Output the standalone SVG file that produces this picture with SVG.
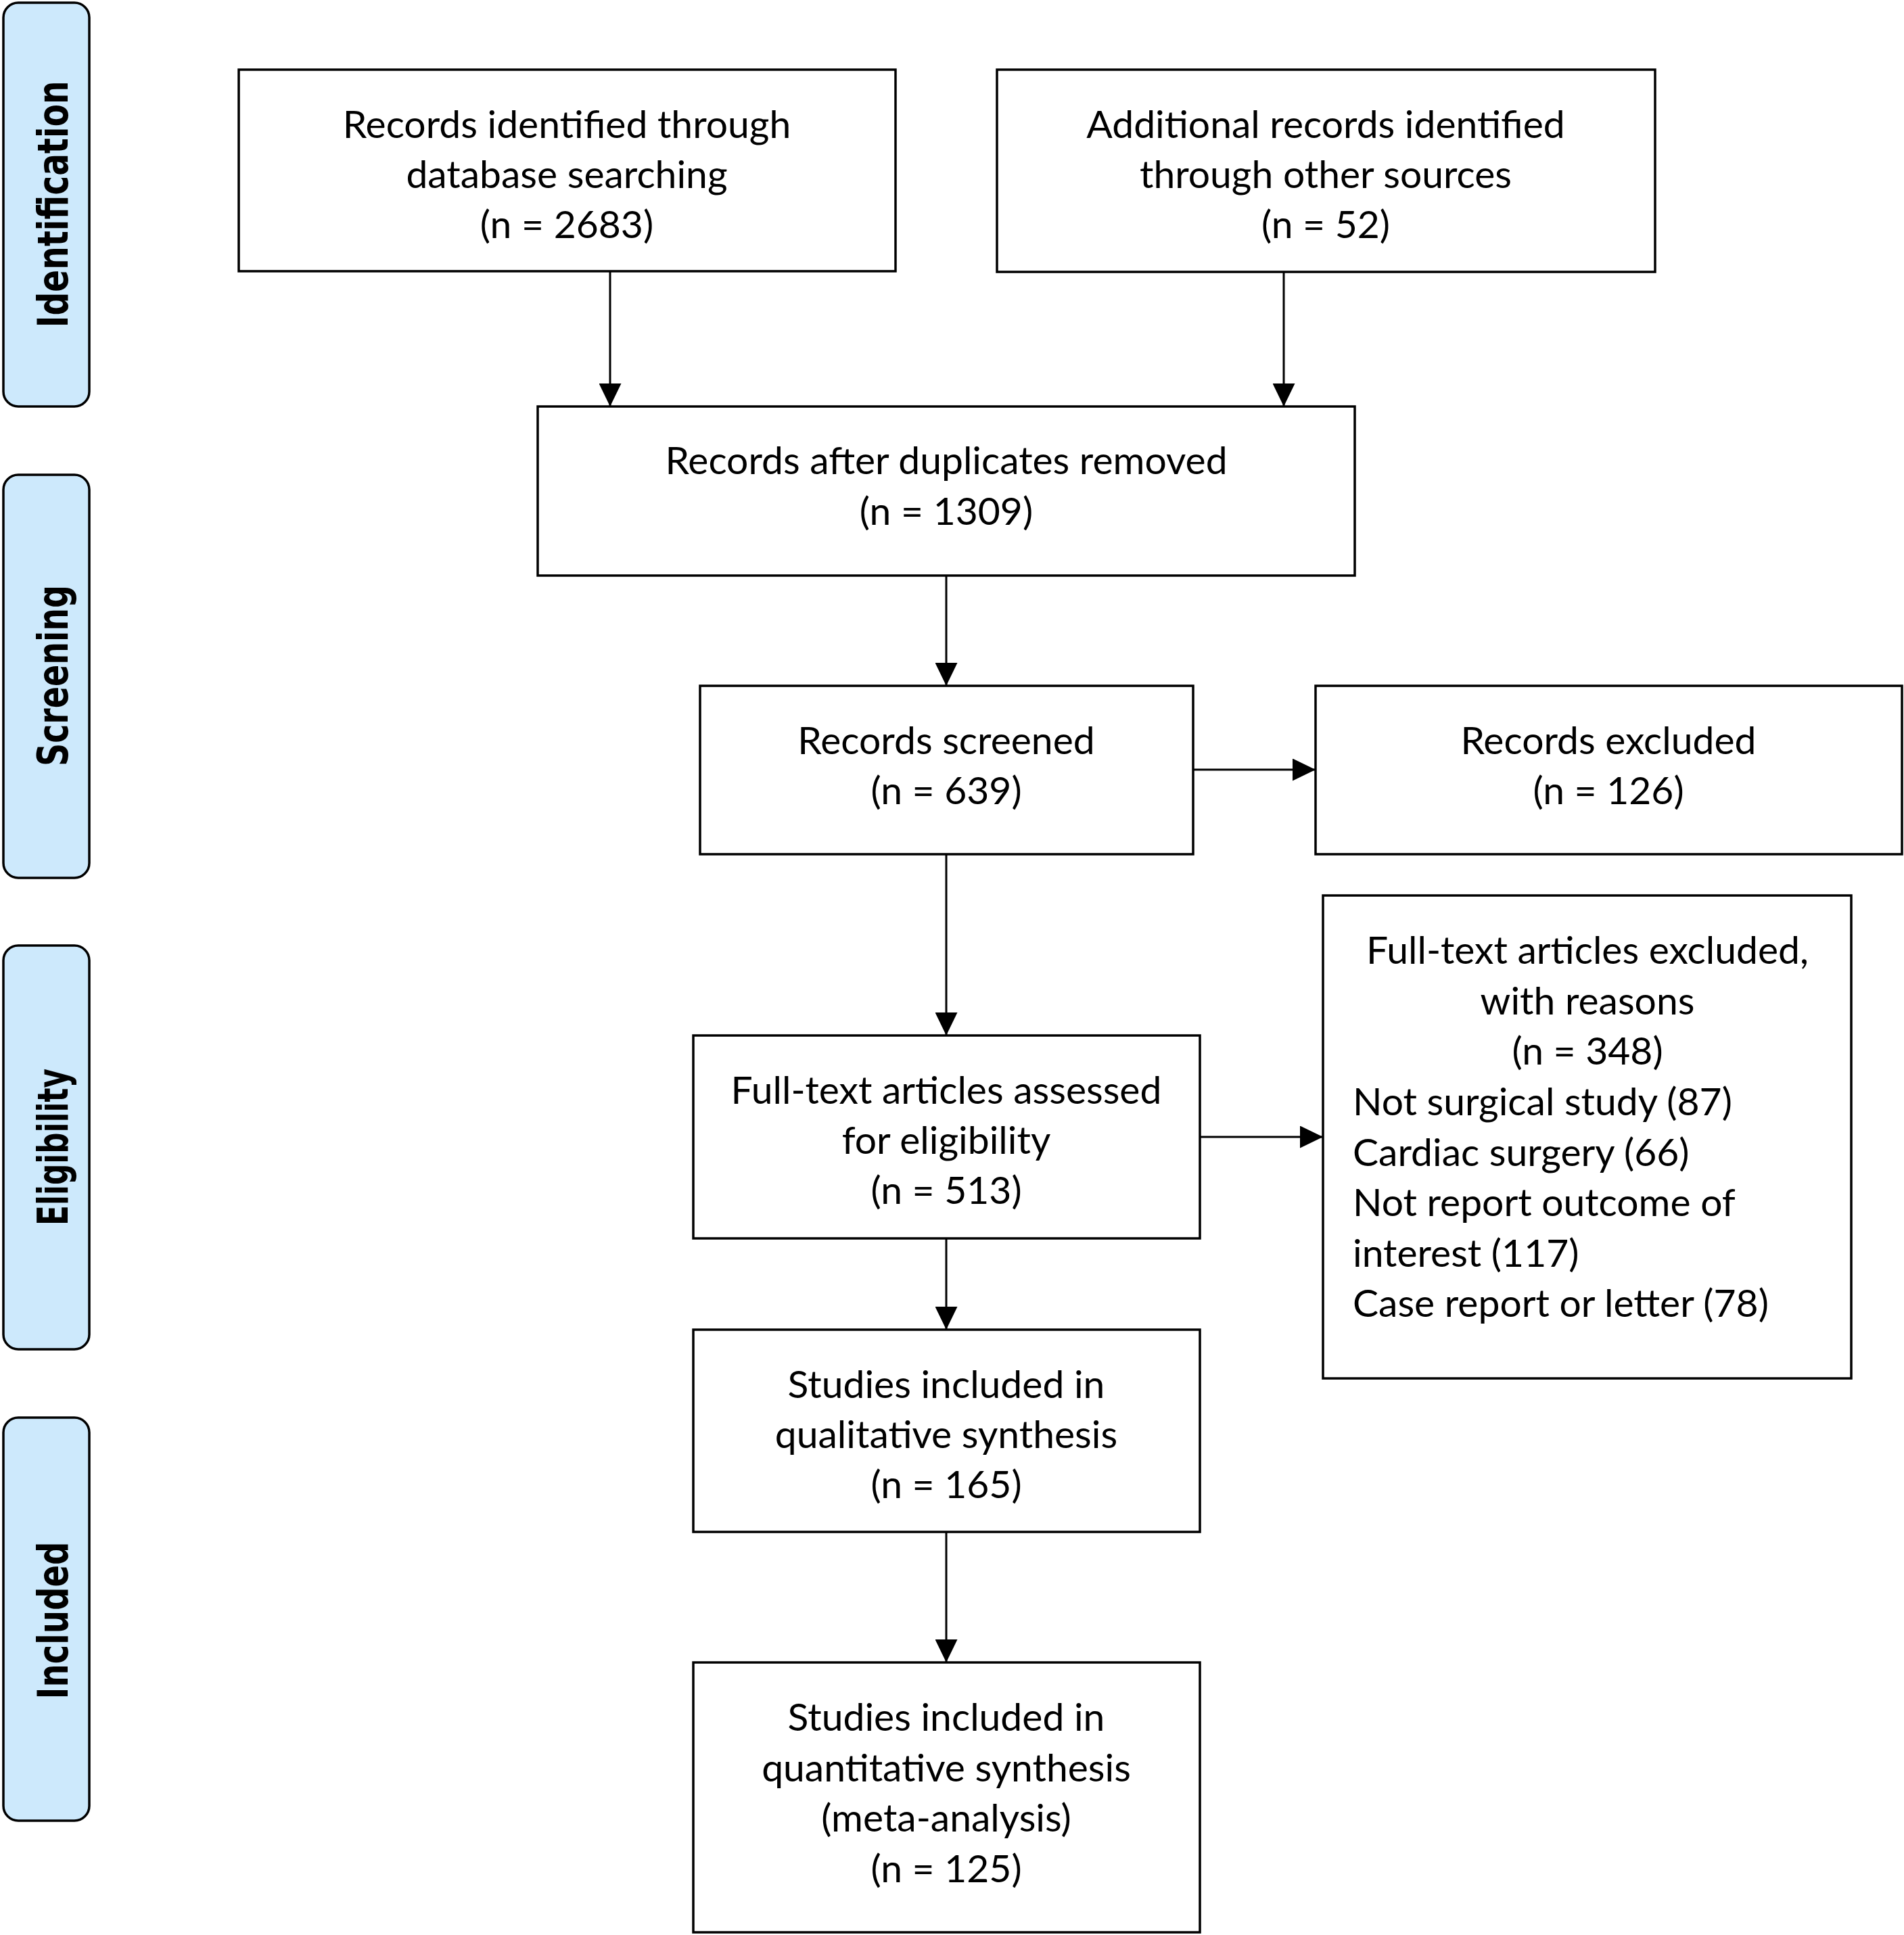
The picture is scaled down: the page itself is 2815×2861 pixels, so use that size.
<svg xmlns="http://www.w3.org/2000/svg" width="2815" height="2861" viewBox="0 0 2815 2861">
<defs>
<style>
.box{fill:#fff;stroke:#000;stroke-width:3.5}
.side{fill:#cde9fc;stroke:#000;stroke-width:3.5}
.t{font-family:Lato,"Open Sans",sans-serif;font-size:57px;fill:#000;text-anchor:middle}
.l{font-family:Lato,"Open Sans",sans-serif;font-size:57px;fill:#000}
.s{font-family:"DejaVu Sans",Verdana,sans-serif;font-weight:bold;font-size:63px;fill:#000;text-anchor:middle}
.c{stroke:#000;stroke-width:3;fill:none;marker-end:url(#ah)}
</style>
<marker id="ah" markerUnits="userSpaceOnUse" markerWidth="35" markerHeight="33" refX="34" refY="16.5" orient="auto"><path d="M0,0 L34,16.5 L0,33 z" fill="#000"/></marker>
</defs>
<rect width="2815" height="2861" fill="#fff"/>
<g id="phase-identification"><rect class="side" x="5" y="4" width="127" height="597" rx="22"/><text class="s" transform="translate(100,302) rotate(-90)" textLength="365" lengthAdjust="spacingAndGlyphs">Identification</text></g>
<g id="phase-screening"><rect class="side" x="5" y="702" width="127" height="596" rx="22"/><text class="s" transform="translate(100,999) rotate(-90)" textLength="268" lengthAdjust="spacingAndGlyphs">Screening</text></g>
<g id="phase-eligibility"><rect class="side" x="5" y="1398" width="127" height="597" rx="22"/><text class="s" transform="translate(100,1696) rotate(-90)" textLength="232" lengthAdjust="spacingAndGlyphs">Eligibility</text></g>
<g id="phase-included"><rect class="side" x="5" y="2096" width="127" height="596" rx="22"/><text class="s" transform="translate(100,2396) rotate(-90)" textLength="233" lengthAdjust="spacingAndGlyphs">Included</text></g>
<g id="connectors">
<line class="c" x1="902" y1="401" x2="902" y2="601"/>
<line class="c" x1="1898" y1="403" x2="1898" y2="601"/>
<line class="c" x1="1399" y1="851" x2="1399" y2="1014"/>
<line class="c" x1="1399" y1="1263" x2="1399" y2="1531"/>
<line class="c" x1="1399" y1="1831" x2="1399" y2="1966"/>
<line class="c" x1="1399" y1="2265" x2="1399" y2="2458"/>
<line class="c" x1="1764" y1="1138" x2="1945" y2="1138"/>
<line class="c" x1="1774" y1="1681" x2="1956" y2="1681"/>
</g>
<g id="n-database"><rect class="box" x="353" y="103" width="971" height="298"/><text class="t" x="838" y="204">Records identified through</text><text class="t" x="838" y="278">database searching</text><text class="t" x="838" y="352">(n = 2683)</text></g>
<g id="n-other"><rect class="box" x="1474" y="103" width="973" height="299"/><text class="t" x="1960" y="204">Additional records identified</text><text class="t" x="1960" y="278">through other sources</text><text class="t" x="1960" y="352">(n = 52)</text></g>
<g id="n-dedup"><rect class="box" x="795" y="601" width="1208" height="250"/><text class="t" x="1399" y="701">Records after duplicates removed</text><text class="t" x="1399" y="776">(n = 1309)</text></g>
<g id="n-screened"><rect class="box" x="1035" y="1014" width="729" height="249"/><text class="t" x="1399" y="1115">Records screened</text><text class="t" x="1399" y="1189">(n = 639)</text></g>
<g id="n-excluded"><rect class="box" x="1945" y="1014" width="867" height="249"/><text class="t" x="2378" y="1115">Records excluded</text><text class="t" x="2378" y="1189">(n = 126)</text></g>
<g id="n-assessed"><rect class="box" x="1025" y="1531" width="749" height="300"/><text class="t" x="1399" y="1632">Full-text articles assessed</text><text class="t" x="1399" y="1706">for eligibility</text><text class="t" x="1399" y="1780">(n = 513)</text></g>
<g id="n-ftexcluded"><rect class="box" x="1956" y="1324" width="781" height="714"/><text class="t" x="2347" y="1425">Full-text articles excluded,</text><text class="t" x="2347" y="1500">with reasons</text><text class="t" x="2347" y="1574">(n = 348)</text><text class="l" x="2000" y="1649">Not surgical study (87)</text><text class="l" x="2000" y="1724">Cardiac surgery (66)</text><text class="l" x="2000" y="1798">Not report outcome of</text><text class="l" x="2000" y="1873">interest (117)</text><text class="l" x="2000" y="1947">Case report or letter (78)</text></g>
<g id="n-qualitative"><rect class="box" x="1025" y="1966" width="749" height="299"/><text class="t" x="1399" y="2067">Studies included in</text><text class="t" x="1399" y="2141">qualitative synthesis</text><text class="t" x="1399" y="2215">(n = 165)</text></g>
<g id="n-quantitative"><rect class="box" x="1025" y="2458" width="749" height="399"/><text class="t" x="1399" y="2559">Studies included in</text><text class="t" x="1399" y="2634">quantitative synthesis</text><text class="t" x="1399" y="2708">(meta-analysis)</text><text class="t" x="1399" y="2783">(n = 125)</text></g>
</svg>
